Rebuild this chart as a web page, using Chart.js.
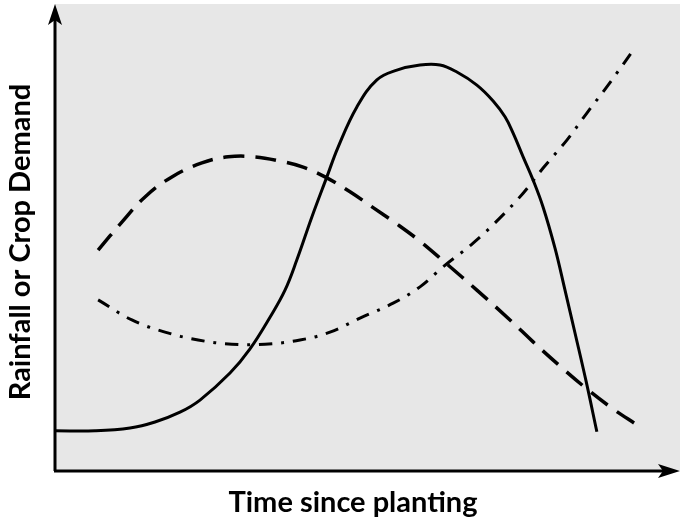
<!DOCTYPE html>
<html>
<head>
<meta charset="utf-8">
<script src="https://cdn.jsdelivr.net/npm/chart.js@4.4.1/dist/chart.umd.min.js"></script>
<style>
  body { margin: 0; background: #fff; }
  #wrap { width: 685px; height: 526px; }
</style>
</head>
<body>
<div id="wrap"><canvas id="grafico" width="685" height="526"></canvas></div>
<script>
// Curva continua (demanda del cultivo)
const tiempoContinua = [0, 6.4, 12, 16, 20, 23.2, 28, 31.2, 34.4, 36.8, 38.7, 41.1, 43.5, 45.3, 48.3, 51.5, 54.7, 58.4, 61.6, 64.3, 67.5, 70.1, 72, 73.3, 74.9, 76.5, 78.1, 80, 81.6, 83.2, 85.0, 86.7];
const valorContinua = [8.4, 8.4, 9.0, 10.3, 12.4, 15.0, 20.8, 26.0, 32.8, 38.6, 45.1, 54.3, 62.9, 69.3, 77.9, 83.7, 85.8, 86.9, 86.9, 85.4, 82.6, 79.2, 75.8, 72.3, 67.2, 62.2, 56.4, 47.6, 38.6, 29.4, 18.9, 8.2];

// Curva discontinua
const tiempoDiscontinua = [6.9, 10.7, 14.4, 18.7, 23.5, 27.7, 32, 36, 39.7, 43.2, 47.2, 50.9, 54.7, 58.4, 62.7, 67.5, 72.8, 76.5, 80.8, 85.1, 89.3, 93.1];
const valorDiscontinua = [47.2, 53.2, 58.6, 62.9, 65.9, 67.2, 67.2, 66.3, 65.0, 62.9, 59.7, 56.3, 52.8, 49.1, 44.2, 38.6, 32.2, 27.5, 22.3, 17.4, 13.1, 9.7];

// Curva punto-raya
const tiempoPuntoRaya = [6.9, 12.3, 17.6, 22.9, 28.3, 33.6, 39.2, 44, 48.8, 54.1, 58.4, 62.1, 66.9, 71.2, 74.9, 78.1, 81.9, 85.1, 88.5, 92.8];
const valorPuntoRaya = [36.5, 32.2, 29.6, 27.9, 27.0, 27.0, 27.9, 29.6, 32.6, 35.8, 39.3, 43.6, 48.7, 54.1, 59.4, 64.8, 70.8, 76.6, 82.6, 90.6];

const tituloX = 'Time since planting';
const tituloY = 'Rainfall or Crop Demand';

function puntos(xs, ys) {
    return xs.map((x, i) => ({ x: x, y: ys[i] }));
}

// Fondo gris, ejes con flechas y títulos
const ejesConFlechas = {
    id: 'ejesConFlechas',
    beforeDatasetsDraw(chart) {
        const { ctx, chartArea: a } = chart;
        ctx.save();
        ctx.fillStyle = '#e7e7e7';
        ctx.fillRect(a.left, a.top, a.right - a.left, a.bottom - a.top);
        ctx.restore();
    },
    afterDatasetsDraw(chart) {
        const { ctx, chartArea: a } = chart;
        ctx.save();
        ctx.strokeStyle = '#000';
        ctx.fillStyle = '#000';
        ctx.lineWidth = 3;
        ctx.beginPath();
        ctx.moveTo(a.left, a.bottom + 1);
        ctx.lineTo(a.left, a.top + 16);
        ctx.moveTo(a.left - 1, a.bottom + 1);
        ctx.lineTo(a.right - 16, a.bottom + 1);
        ctx.stroke();

        // flecha eje Y
        ctx.beginPath();
        ctx.moveTo(a.left, a.top);
        ctx.lineTo(a.left - 7, a.top + 21);
        ctx.lineTo(a.left, a.top + 16);
        ctx.lineTo(a.left + 7, a.top + 21);
        ctx.closePath();
        ctx.fill();

        // flecha eje X
        ctx.beginPath();
        ctx.moveTo(a.right, a.bottom + 1);
        ctx.lineTo(a.right - 22, a.bottom - 6);
        ctx.lineTo(a.right - 17, a.bottom + 1);
        ctx.lineTo(a.right - 22, a.bottom + 8);
        ctx.closePath();
        ctx.fill();

        // títulos
        ctx.font = 'bold 29px Lato';
        ctx.textAlign = 'center';
        ctx.textBaseline = 'middle';
        ctx.fillText(tituloX, 353, 503);
        ctx.translate(21, 242);
        ctx.rotate(-Math.PI / 2);
        ctx.fillText(tituloY, 0, 0);
        ctx.restore();
    }
};

const comun = { pointRadius: 0, borderColor: '#000', tension: 0.4, fill: false };

new Chart(document.getElementById('grafico'), {
    type: 'line',
    data: {
        datasets: [
            Object.assign({ label: 'Continua', data: puntos(tiempoContinua, valorContinua), borderWidth: 3 }, comun),
            Object.assign({ label: 'Discontinua', data: puntos(tiempoDiscontinua, valorDiscontinua), borderWidth: 3.5, borderDash: [21, 11] }, comun),
            Object.assign({ label: 'Punto-raya', data: puntos(tiempoPuntoRaya, valorPuntoRaya), borderWidth: 3, borderDash: [13, 9, 3, 9] }, comun)
        ]
    },
    options: {
        responsive: false,
        animation: false,
        layout: { padding: { left: 55, right: 5, top: 4, bottom: 56 } },
        plugins: { legend: { display: false }, tooltip: { enabled: false } },
        scales: {
            x: { type: 'linear', min: 0, max: 100, display: false },
            y: { min: 0, max: 100, display: false }
        }
    },
    plugins: [ejesConFlechas]
});
</script>
</body>
</html>
